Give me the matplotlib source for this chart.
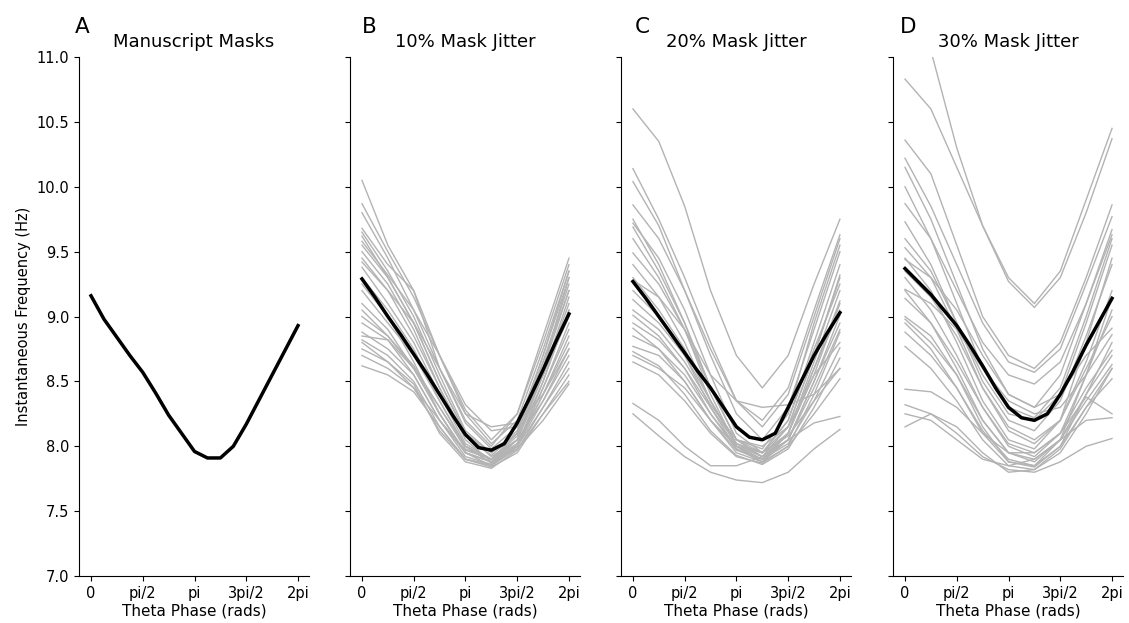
import numpy as np
import matplotlib
matplotlib.use('Agg')
import matplotlib.pyplot as plt

# phase grids
phase_fine = np.linspace(0, 2 * np.pi, 17)   # black mean lines
phase_coarse = np.linspace(0, 2 * np.pi, 9)  # grey jittered lines

titles = ['Manuscript Masks', '10% Mask Jitter', '20% Mask Jitter', '30% Mask Jitter']
letters = ['A', 'B', 'C', 'D']
xtick_labels = ['0', 'pi/2', 'pi', '3pi/2', '2pi']

mean_a = [9.16, 8.98, 8.84, 8.70, 8.57, 8.41, 8.24, 8.10, 7.96, 7.91, 7.91, 8.00, 8.17, 8.36, 8.55, 8.74, 8.93]
mean_b = [9.29, 9.15, 9.00, 8.86, 8.71, 8.56, 8.40, 8.24, 8.09, 7.99, 7.97, 8.02, 8.18, 8.38, 8.59, 8.81, 9.02]
mean_c = [9.27, 9.14, 9.00, 8.86, 8.72, 8.58, 8.45, 8.30, 8.15, 8.07, 8.05, 8.10, 8.30, 8.50, 8.70, 8.87, 9.03]
mean_d = [9.37, 9.27, 9.17, 9.05, 8.93, 8.78, 8.62, 8.45, 8.30, 8.22, 8.20, 8.25, 8.40, 8.58, 8.78, 8.96, 9.14]

jitter_b = [
    [10.05, 9.55, 9.20, 8.60, 8.20, 8.00, 8.25, 8.80, 9.40],
    [9.87, 9.50, 9.15, 8.70, 8.25, 8.02, 8.20, 8.75, 9.35],
    [9.80, 9.45, 9.05, 8.60, 8.18, 7.98, 8.15, 8.70, 9.30],
    [9.68, 9.40, 9.20, 8.70, 8.28, 8.05, 8.25, 8.85, 9.45],
    [9.65, 9.35, 9.00, 8.55, 8.12, 7.95, 8.10, 8.60, 9.20],
    [9.62, 9.30, 8.95, 8.50, 8.10, 7.92, 8.05, 8.50, 9.05],
    [9.58, 9.32, 9.05, 8.70, 8.32, 8.12, 8.15, 8.55, 9.00],
    [9.50, 9.25, 8.90, 8.45, 8.05, 7.88, 8.00, 8.45, 8.90],
    [9.42, 9.20, 8.95, 8.60, 8.25, 8.15, 8.18, 8.40, 8.75],
    [9.38, 9.10, 8.80, 8.40, 8.02, 7.90, 8.10, 8.65, 9.25],
    [9.30, 9.05, 8.75, 8.35, 8.00, 7.87, 8.05, 8.55, 9.10],
    [9.20, 8.95, 8.70, 8.35, 8.00, 7.90, 8.02, 8.45, 8.95],
    [9.10, 8.90, 8.60, 8.25, 7.95, 7.85, 8.00, 8.40, 8.85],
    [9.05, 8.85, 8.62, 8.30, 7.98, 7.90, 8.05, 8.35, 8.70],
    [8.95, 8.82, 8.55, 8.20, 7.92, 7.86, 8.00, 8.30, 8.60],
    [8.88, 8.75, 8.55, 8.20, 7.95, 7.88, 7.98, 8.25, 8.55],
    [8.85, 8.82, 8.60, 8.30, 8.00, 7.90, 8.08, 8.55, 9.15],
    [8.82, 8.70, 8.50, 8.15, 7.90, 7.84, 7.95, 8.25, 8.50],
    [8.75, 8.65, 8.48, 8.10, 7.88, 7.83, 7.97, 8.30, 8.65],
    [8.70, 8.60, 8.45, 8.12, 7.90, 7.86, 8.02, 8.40, 8.80],
    [8.62, 8.55, 8.42, 8.15, 7.90, 7.85, 7.98, 8.20, 8.48],
    [9.55, 9.30, 8.95, 8.50, 8.10, 7.95, 8.12, 8.65, 9.20],
    [9.25, 9.00, 8.65, 8.25, 7.95, 7.88, 8.05, 8.60, 9.30],
    [9.00, 8.85, 8.60, 8.25, 7.95, 7.88, 8.00, 8.50, 9.05],
    [9.45, 9.20, 8.85, 8.45, 8.08, 7.93, 8.10, 8.70, 9.35],
    [8.80, 8.65, 8.45, 8.20, 7.97, 7.90, 8.00, 8.35, 8.75],
]

jitter_c = [
    [10.60, 10.35, 9.85, 9.20, 8.70, 8.45, 8.70, 9.25, 9.75],
    [10.14, 9.75, 9.30, 8.80, 8.35, 8.15, 8.40, 9.00, 9.60],
    [10.04, 9.70, 9.20, 8.70, 8.25, 8.05, 8.30, 8.90, 9.50],
    [9.86, 9.60, 9.20, 8.75, 8.35, 8.20, 8.45, 9.05, 9.63],
    [9.72, 9.45, 9.05, 8.55, 8.10, 7.95, 8.20, 8.80, 9.40],
    [9.69, 9.35, 8.95, 8.45, 8.05, 7.92, 8.15, 8.70, 9.32],
    [9.49, 9.25, 8.90, 8.45, 8.05, 7.95, 8.20, 8.75, 9.25],
    [9.28, 9.15, 8.90, 8.55, 8.35, 8.30, 8.32, 8.40, 8.60],
    [9.13, 8.95, 8.70, 8.35, 8.02, 7.92, 8.10, 8.60, 9.12],
    [9.01, 8.85, 8.60, 8.25, 7.98, 7.90, 8.05, 8.50, 9.01],
    [8.91, 8.75, 8.50, 8.20, 7.95, 7.88, 8.00, 8.40, 8.88],
    [8.77, 8.70, 8.50, 8.20, 7.97, 7.90, 8.02, 8.35, 8.76],
    [8.73, 8.62, 8.40, 8.12, 7.93, 7.86, 7.98, 8.30, 8.68],
    [8.65, 8.55, 8.35, 8.10, 7.92, 7.87, 8.00, 8.25, 8.52],
    [8.33, 8.20, 8.00, 7.85, 7.85, 7.92, 8.05, 8.18, 8.23],
    [8.25, 8.08, 7.92, 7.80, 7.74, 7.72, 7.80, 7.98, 8.13],
    [9.60, 9.30, 8.90, 8.40, 8.00, 7.88, 8.10, 8.65, 9.20],
    [9.40, 9.15, 8.80, 8.35, 8.00, 7.90, 8.10, 8.60, 9.05],
    [8.95, 8.82, 8.60, 8.30, 8.02, 7.95, 8.10, 8.55, 9.10],
    [9.20, 9.00, 8.70, 8.30, 7.98, 7.88, 8.05, 8.50, 8.95],
    [8.85, 8.75, 8.55, 8.25, 8.00, 7.92, 8.05, 8.45, 8.90],
    [9.05, 8.90, 8.65, 8.32, 8.05, 8.00, 8.15, 8.70, 9.30],
    [9.75, 9.40, 8.95, 8.45, 8.05, 7.98, 8.25, 8.95, 9.55],
    [8.70, 8.60, 8.45, 8.20, 8.00, 7.95, 8.08, 8.35, 8.60],
    [9.30, 9.05, 8.75, 8.35, 8.02, 7.95, 8.15, 8.55, 8.80],
]

jitter_d = [
    [10.83, 10.60, 10.15, 9.70, 9.30, 9.10, 9.35, 9.90, 10.45],
    [11.60, 11.05, 10.30, 9.70, 9.27, 9.07, 9.30, 9.80, 10.37],
    [10.36, 10.10, 9.55, 9.00, 8.70, 8.60, 8.80, 9.30, 9.86],
    [10.22, 9.85, 9.40, 8.95, 8.65, 8.57, 8.75, 9.25, 9.77],
    [10.15, 9.75, 9.25, 8.75, 8.40, 8.30, 8.55, 9.10, 9.67],
    [9.87, 9.60, 9.20, 8.80, 8.55, 8.48, 8.65, 9.10, 9.63],
    [9.73, 9.40, 8.95, 8.50, 8.20, 8.12, 8.35, 8.85, 9.40],
    [9.53, 9.30, 8.90, 8.45, 8.12, 8.02, 8.20, 8.65, 9.20],
    [9.44, 9.30, 9.05, 8.70, 8.40, 8.30, 8.40, 8.70, 8.91],
    [9.35, 9.15, 8.85, 8.45, 8.15, 8.05, 8.20, 8.60, 9.00],
    [9.21, 9.10, 8.90, 8.60, 8.35, 8.25, 8.30, 8.55, 8.86],
    [9.14, 8.95, 8.65, 8.30, 8.02, 7.95, 8.10, 8.45, 8.74],
    [8.98, 8.80, 8.55, 8.20, 7.95, 7.88, 8.05, 8.35, 8.63],
    [8.88, 8.70, 8.45, 8.12, 7.90, 7.85, 8.00, 8.30, 8.52],
    [8.77, 8.60, 8.35, 8.05, 7.85, 7.82, 7.95, 8.25, 8.60],
    [8.44, 8.42, 8.30, 8.10, 7.95, 7.95, 8.10, 8.38, 8.25],
    [8.32, 8.25, 8.10, 7.92, 7.82, 7.80, 7.88, 8.00, 8.06],
    [8.25, 8.20, 8.05, 7.90, 7.85, 7.90, 8.05, 8.20, 8.22],
    [8.15, 8.25, 8.15, 7.95, 7.80, 7.82, 7.98, 8.30, 8.60],
    [9.60, 9.35, 8.95, 8.55, 8.25, 8.20, 8.40, 8.95, 9.55],
    [9.30, 9.05, 8.70, 8.30, 8.00, 7.92, 8.10, 8.55, 9.05],
    [9.00, 8.85, 8.55, 8.15, 7.88, 7.85, 8.05, 8.55, 9.15],
    [9.45, 9.20, 8.80, 8.35, 8.05, 7.98, 8.20, 8.80, 9.45],
    [10.00, 9.60, 9.10, 8.60, 8.30, 8.22, 8.45, 9.00, 9.60],
    [8.95, 8.75, 8.45, 8.10, 7.88, 7.84, 8.00, 8.40, 8.80],
    [9.20, 8.95, 8.60, 8.20, 7.95, 7.90, 8.05, 8.40, 8.70],
]

means = [mean_a, mean_b, mean_c, mean_d]
jitters = [[], jitter_b, jitter_c, jitter_d]

fig = plt.figure(figsize=(11.29, 6.23), dpi=100)
lefts = [0.0700, 0.310, 0.550, 0.791]
letter_x = [-0.017, 0.052, 0.06, 0.03]

for i in range(4):
    ax = fig.add_axes([lefts[i], 0.0754, 0.2037, 0.8330])
    for line in jitters[i]:
        ax.plot(phase_coarse, line, color='#b3b3b3', lw=1.0, solid_joinstyle='round')
    ax.plot(phase_fine, means[i], color='k', lw=2.5, solid_joinstyle='round')

    ax.set_xlim(-0.364, 2 * np.pi + 0.334)
    ax.set_ylim(7, 11)
    ax.set_xticks(np.linspace(0, 2 * np.pi, 5))
    ax.set_xticklabels(xtick_labels)
    ax.set_yticks(np.arange(7, 11.01, 0.5))
    if i == 0:
        ax.set_yticklabels(['%.1f' % v for v in np.arange(7, 11.01, 0.5)])
        ax.set_ylabel('Instantaneous Frequency (Hz)', fontsize=10.5)
    else:
        ax.set_yticklabels([])
    ax.tick_params(labelsize=10.5)
    ax.set_xlabel('Theta Phase (rads)', fontsize=11, labelpad=2)
    ax.spines['top'].set_visible(False)
    ax.spines['right'].set_visible(False)
    ax.set_title(titles[i], fontsize=13, pad=7)
    ax.text(letter_x[i], 1.046, letters[i], transform=ax.transAxes, fontsize=15.5)

fig.savefig('out.png', dpi=100)
